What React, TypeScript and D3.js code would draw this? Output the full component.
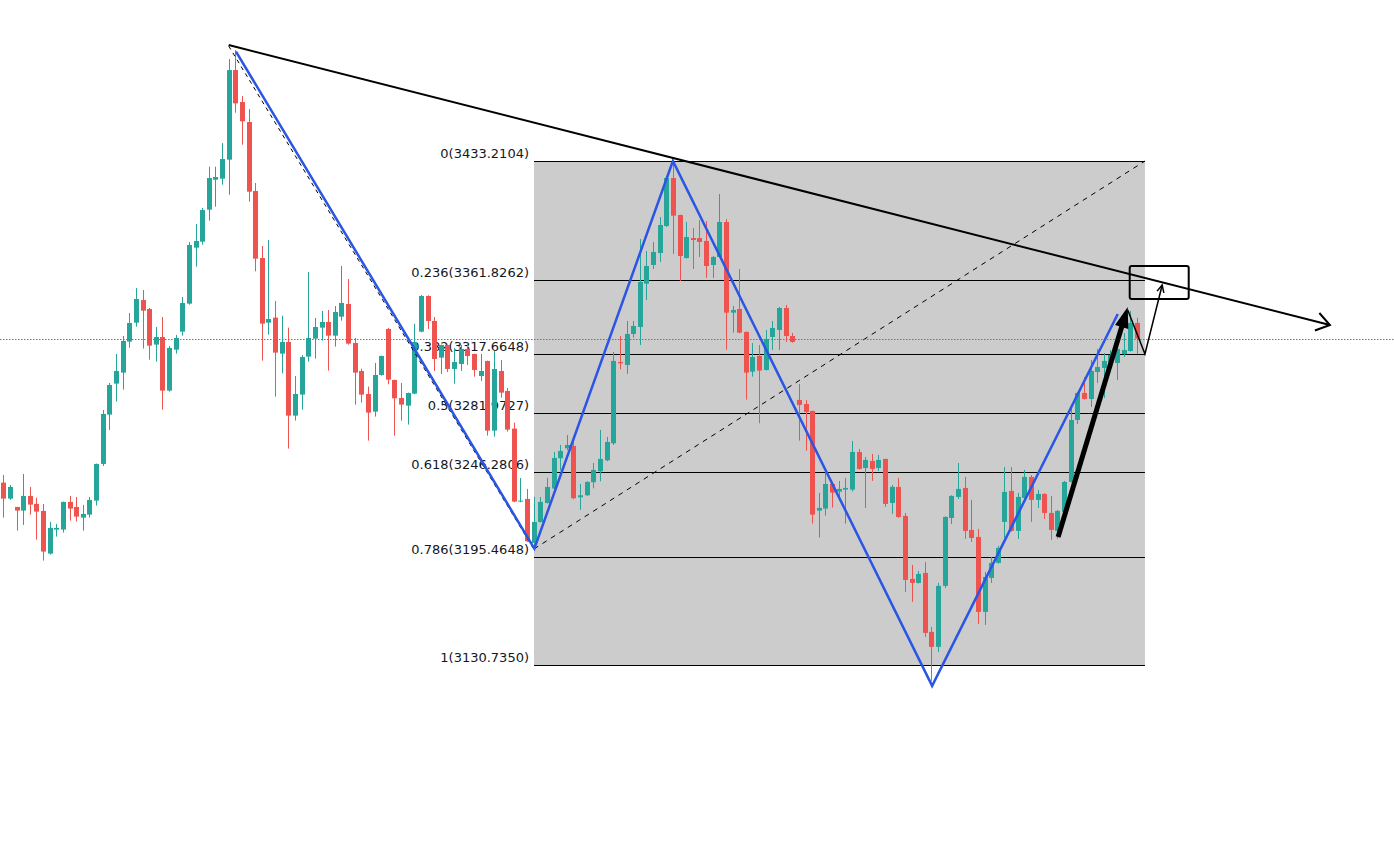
import React from "react";
import * as d3 from "d3";

// ---- Candle data (price units) ----
const OPEN = [3240.2,3230.6,3225.6,3223.4,3232.2,3227.4,3223.2,3197.6,3212.0,3212.0,3228.6,3225.6,3219.2,3221.0,3229.4,3251.4,3281.0,3299.6,3306.2,3324.8,3336.2,3349.8,3344.4,3323.0,3327.6,3295.4,3320.0,3330.8,3347.6,3381.2,3384.8,3404.0,3422.0,3422.6,3434.0,3487.8,3468.6,3456.6,3415.2,3375.0,3336.2,3339.2,3317.6,3324.6,3280.4,3293.0,3315.8,3326.6,3333.2,3336.6,3328.4,3339.8,3347.4,3324.0,3307.2,3293.4,3282.8,3304.8,3332.4,3301.8,3291.0,3286.4,3293.6,3330.8,3352.2,3337.2,3315.2,3322.8,3308.4,3311.4,3320.4,3317.4,3304.2,3313.2,3271.4,3307.2,3295.2,3272.6,3228.8,3230.4,3204.0,3216.6,3228.0,3236.6,3254.8,3260.8,3262.2,3231.4,3232.6,3240.4,3247.0,3253.6,3263.8,3312.6,3310.8,3329.4,3333.6,3359.6,3370.8,3378.0,3394.2,3423.0,3400.8,3375.0,3387.0,3387.0,3385.2,3370.8,3375.6,3396.6,3342.2,3344.4,3330.6,3306.8,3316.2,3307.8,3327.6,3331.8,3345.0,3328.2,3289.8,3287.4,3283.2,3223.4,3224.6,3239.4,3234.8,3236.0,3236.0,3258.6,3249.0,3253.2,3249.0,3254.4,3228.0,3237.6,3220.2,3182.4,3180.0,3186.0,3150.6,3141.6,3178.2,3219.0,3231.6,3237.0,3211.8,3207.6,3162.6,3183.0,3192.0,3216.6,3235.2,3211.2,3231.0,3243.6,3229.8,3233.4,3222.0,3211.2,3222.6,3240.6,3277.8,3294.0,3290.4,3306.6,3309.0,3312.6,3312.0,3317.4,3319.2,3336.0];
const HIGH = [3244.8,3238.8,3225.6,3245.4,3237.6,3231.2,3227.4,3216.6,3215.4,3228.8,3232.2,3231.6,3226.8,3231.6,3251.6,3283.8,3300.0,3317.4,3328.2,3342.0,3357.0,3355.8,3345.0,3333.6,3339.6,3322.2,3328.8,3351.6,3384.6,3395.4,3405.0,3429.8,3429.8,3444.0,3494.4,3499.8,3472.2,3464.4,3420.0,3382.2,3385.8,3349.2,3340.4,3333.2,3304.2,3316.8,3366.6,3339.0,3343.2,3343.8,3346.2,3370.2,3362.4,3327.0,3308.6,3297.8,3312.0,3316.4,3333.0,3302.0,3300.0,3294.2,3335.6,3352.8,3352.6,3339.6,3323.0,3323.0,3321.0,3322.8,3322.8,3317.6,3317.4,3313.4,3319.2,3313.8,3297.0,3276.2,3243.0,3236.4,3231.6,3231.6,3243.0,3258.6,3262.8,3268.8,3264.8,3239.4,3241.0,3252.0,3271.8,3267.6,3318.6,3328.2,3337.2,3337.2,3386.4,3379.2,3384.6,3399.6,3424.2,3433.2,3401.0,3396.6,3393.0,3397.8,3397.2,3376.2,3413.4,3398.4,3346.2,3368.4,3331.0,3324.0,3322.8,3331.8,3337.2,3345.6,3346.8,3330.0,3299.4,3289.8,3283.4,3234.0,3248.4,3239.6,3241.2,3243.0,3265.2,3260.4,3255.6,3257.4,3256.8,3254.6,3238.8,3243.0,3222.0,3190.8,3187.2,3192.6,3153.6,3180.0,3220.0,3232.6,3252.0,3243.6,3229.8,3212.4,3186.6,3195.6,3202.2,3249.6,3249.6,3234.0,3247.8,3244.8,3235.8,3233.8,3232.2,3223.8,3241.2,3285.6,3294.6,3303.6,3313.8,3320.4,3318.0,3319.8,3324.0,3330.0,3343.2,3339.0];
const LOW = [3219.2,3229.8,3211.4,3214.8,3221.0,3206.0,3193.4,3197.0,3207.8,3210.2,3217.4,3216.8,3211.4,3219.2,3226.4,3250.2,3271.8,3288.8,3296.0,3321.2,3333.8,3320.6,3314.0,3312.8,3284.0,3294.8,3317.6,3328.4,3347.0,3369.8,3383.0,3397.4,3405.8,3419.0,3413.0,3462.2,3443.0,3408.8,3367.0,3313.4,3329.0,3291.8,3305.8,3260.6,3277.4,3284.0,3312.8,3314.6,3325.4,3307.4,3321.8,3337.4,3323.0,3287.0,3288.2,3265.4,3279.8,3304.4,3299.2,3268.4,3277.4,3275.0,3293.2,3330.4,3332.4,3307.2,3305.4,3306.6,3299.6,3307.2,3310.8,3303.8,3301.2,3268.4,3267.8,3291.2,3270.8,3228.4,3228.4,3204.6,3200.4,3216.2,3227.6,3236.2,3247.6,3259.6,3230.2,3223.8,3232.2,3236.8,3241.0,3253.0,3262.8,3308.2,3305.4,3327.2,3322.8,3349.8,3368.4,3372.6,3393.6,3377.4,3361.2,3374.6,3368.4,3375.6,3363.0,3363.0,3375.2,3320.0,3330.2,3329.8,3290.0,3303.8,3275.8,3307.4,3319.8,3319.8,3324.6,3324.2,3265.4,3259.4,3215.6,3207.2,3220.4,3225.2,3229.4,3215.6,3234.8,3248.0,3225.0,3241.2,3247.2,3225.6,3221.4,3219.0,3174.6,3168.6,3179.6,3147.6,3121.2,3138.6,3177.0,3215.4,3230.4,3206.4,3204.6,3155.4,3154.8,3180.0,3191.6,3207.0,3210.8,3206.4,3229.2,3216.6,3225.0,3218.4,3205.8,3206.4,3222.2,3240.2,3275.4,3290.0,3285.6,3300.0,3291.0,3310.8,3301.8,3315.6,3318.8,3317.4];
const CLOSE = [3230.6,3237.6,3223.4,3232.2,3227.0,3222.8,3198.8,3213.0,3213.0,3228.6,3224.6,3219.8,3221.4,3229.8,3251.4,3281.4,3298.8,3307.2,3325.2,3336.0,3350.4,3343.4,3322.4,3327.6,3295.4,3321.0,3327.0,3348.0,3382.8,3385.2,3403.8,3423.0,3423.6,3434.4,3487.8,3467.8,3457.0,3414.8,3374.6,3335.6,3338.4,3318.2,3324.6,3280.4,3293.4,3315.6,3327.0,3333.6,3336.6,3328.4,3342.6,3348.0,3323.6,3306.2,3293.0,3282.2,3304.8,3316.2,3302.0,3290.8,3287.0,3294.0,3324.6,3352.2,3337.2,3314.4,3322.8,3308.4,3312.6,3320.4,3316.2,3307.8,3307.2,3271.4,3308.4,3294.2,3272.0,3228.8,3229.4,3205.0,3216.6,3228.6,3237.6,3255.0,3259.2,3262.8,3230.8,3232.6,3240.6,3247.8,3254.4,3264.6,3313.2,3311.8,3329.4,3334.2,3360.6,3370.2,3378.6,3394.8,3423.0,3400.4,3376.2,3387.6,3385.8,3384.6,3370.2,3375.6,3396.6,3342.2,3343.8,3330.2,3306.2,3315.6,3307.4,3326.4,3333.0,3345.0,3328.2,3324.6,3286.8,3282.6,3221.0,3225.0,3239.4,3234.2,3236.4,3237.0,3258.6,3248.4,3253.8,3248.4,3253.8,3227.4,3237.6,3219.6,3181.8,3180.0,3185.4,3150.0,3141.6,3178.2,3219.6,3232.2,3236.4,3211.2,3207.0,3162.6,3183.6,3192.0,3201.0,3234.6,3211.2,3231.6,3243.6,3229.8,3233.4,3222.0,3211.8,3223.2,3240.6,3277.8,3294.0,3290.4,3307.2,3309.6,3313.2,3316.8,3320.4,3319.8,3336.0,3326.6];

const CURRENT_PRICE = 3326.6;

// ---- Fibonacci retracement ----
const FIB_RATIOS = ["0", "0.236", "0.382", "0.5", "0.618", "0.786", "1"];
const FIB_PRICES = [3433.2104, 3361.8262, 3317.6648, 3281.9727, 3246.2806, 3195.4648, 3130.735];
const FIB_RANGE = [80.05, 172.2]; // bar index span of the fib box
const FIB_TREND = [[80.05, 3200.4], [172.2, 3433.2]];

// ---- Drawings (bar index, price) ----
const TRENDLINE = [[34.0, 3502.8], [200.1, 3334.8]];
const PARALLEL_DASH = [[34.0, 3502.2], [79.9, 3201.0]];
const ZIGZAG = [[35.1, 3498.8], [80.1, 3200.6], [101.0, 3433.2], [140.1, 3118.2], [168.1, 3341.4]];
const BIG_ARROW = [[159.1, 3207.6], [169.6, 3345.6]];
const PATH_ARROW = [[169.6, 3343.8], [172.2, 3317.4], [174.8, 3358.8]];
const RECT = [[169.9, 3370.2], [178.8, 3350.4]];

const W = 1394;
const H = 848;
const UP = "#26a69a";
const DOWN = "#ef5350";

export default function App() {
  const x = d3.scaleLinear().domain([0, OPEN.length - 1]).range([3.3, 1137.0]);
  const y = d3.scaleLinear().domain([3130.735, 3433.2104]).range([665, 161]);
  const line = d3.line<number[]>().x((d) => x(d[0])).y((d) => y(d[1]));

  const fx0 = x(FIB_RANGE[0]);
  const fx1 = x(FIB_RANGE[1]);

  const head = (pts: number[][], len: number, ang: number) => {
    const a = pts[pts.length - 2];
    const b = pts[pts.length - 1];
    const x1 = x(a[0]), y1 = y(a[1]), x2 = x(b[0]), y2 = y(b[1]);
    const t = Math.atan2(y2 - y1, x2 - x1);
    const p1 = [x2 - len * Math.cos(t - ang), y2 - len * Math.sin(t - ang)];
    const p2 = [x2 - len * Math.cos(t + ang), y2 - len * Math.sin(t + ang)];
    return { tip: [x2, y2], p1, p2, t };
  };

  const trendHead = head(TRENDLINE, 16, 0.6);
  const pathHead = head(PATH_ARROW, 8, 0.45);
  const bigHead = head(BIG_ARROW, 22, 0.32);
  const bx2 = bigHead.tip[0] - 18 * Math.cos(bigHead.t);
  const by2 = bigHead.tip[1] - 18 * Math.sin(bigHead.t);

  const bw = 5;
  const py = Math.round(y(CURRENT_PRICE)) + 0.5;

  return (
    <div style={{ position: "absolute", left: 0, top: 0, width: W, height: H, background: "#fff" }}>
      <svg width={W} height={H} style={{ display: "block" }}>
        {/* fib box */}
        <rect x={fx0} y={y(FIB_PRICES[0])} width={fx1 - fx0} height={y(FIB_PRICES[6]) - y(FIB_PRICES[0])} fill="#cccccc" />
        {FIB_PRICES.map((p, i) => (
          <g key={"f" + i}>
            <line x1={fx0} x2={fx1} y1={Math.round(y(p)) + 0.5} y2={Math.round(y(p)) + 0.5} stroke="#000" strokeWidth={1} />
            <text x={fx0 - 5} y={y(p) - 3} textAnchor="end" fontFamily="DejaVu Sans, sans-serif" fontSize={13} fill="#131722">
              {FIB_RATIOS[i]}({p.toFixed(4)})
            </text>
          </g>
        ))}
        <path d={line(FIB_TREND as any) || ""} stroke="#000" strokeWidth={1} strokeDasharray="5,5" fill="none" />

        {/* candles */}
        {OPEN.map((o, i) => {
          const c = CLOSE[i];
          const up = c >= o;
          const col = up ? UP : DOWN;
          const cx = Math.round(x(i));
          const top = y(Math.max(o, c));
          const bot = y(Math.min(o, c));
          return (
            <g key={i}>
              <line x1={cx + 0.5} x2={cx + 0.5} y1={y(HIGH[i])} y2={y(LOW[i])} stroke={col} strokeWidth={1} />
              <rect x={cx - 2} y={top} width={bw} height={Math.max(1, bot - top)} fill={col} />
            </g>
          );
        })}

        {/* current price line */}
        <line x1={0} x2={W} y1={py} y2={py} stroke="#ff3b3b" strokeWidth={1} strokeDasharray="1.5,1.5" />

        {/* parallel dashed line */}
        <path d={line(PARALLEL_DASH as any) || ""} stroke="#000" strokeWidth={1} strokeDasharray="4,4" fill="none" />
        {/* zigzag */}
        <path d={line(ZIGZAG as any) || ""} stroke="#2a55e5" strokeWidth={2.5} fill="none" strokeLinejoin="miter" />
        {/* trendline with open arrow */}
        <path d={line(TRENDLINE as any) || ""} stroke="#000" strokeWidth={2} fill="none" />
        <path d={`M${trendHead.p1[0]},${trendHead.p1[1]}L${trendHead.tip[0]},${trendHead.tip[1]}L${trendHead.p2[0]},${trendHead.p2[1]}`} stroke="#000" strokeWidth={2} fill="none" />

        {/* big arrow */}
        <line x1={x(BIG_ARROW[0][0])} y1={y(BIG_ARROW[0][1])} x2={bx2} y2={by2} stroke="#000" strokeWidth={5} />
        <path d={`M${bigHead.p1[0]},${bigHead.p1[1]}L${bigHead.tip[0]},${bigHead.tip[1]}L${bigHead.p2[0]},${bigHead.p2[1]}Z`} fill="#000" />

        {/* path arrow */}
        <path d={line(PATH_ARROW as any) || ""} stroke="#000" strokeWidth={1.5} fill="none" />
        <path d={`M${pathHead.p1[0]},${pathHead.p1[1]}L${pathHead.tip[0]},${pathHead.tip[1]}L${pathHead.p2[0]},${pathHead.p2[1]}`} stroke="#000" strokeWidth={1.5} fill="none" />

        {/* rectangle */}
        <rect x={x(RECT[0][0])} y={y(RECT[0][1])} width={x(RECT[1][0]) - x(RECT[0][0])} height={y(RECT[1][1]) - y(RECT[0][1])} rx={2} fill="none" stroke="#000" strokeWidth={2} />
      </svg>
    </div>
  );
}
